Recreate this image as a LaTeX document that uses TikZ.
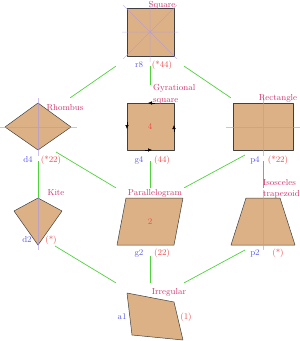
\documentclass[tikz,border=0pt]{standalone}
\usetikzlibrary{arrows.meta}
\definecolor{quadfill}{RGB}{221,177,134}
\definecolor{axiscol}{RGB}{170,150,235}
\definecolor{linkgreen}{RGB}{80,210,60}
\definecolor{namecol}{RGB}{205,55,110}
\definecolor{groupcol}{RGB}{90,90,235}
\definecolor{ordercol}{RGB}{235,75,75}
\newcommand{\lblsize}{\fontsize{8.7}{11.3}\selectfont}
\begin{document}
\begin{tikzpicture}[
	x=1pt, y=-1pt,
	quad/.style={ draw=black!75, fill=quadfill, line width=0.5pt, line join=round },
	symaxis/.style={ axiscol, opacity=0.6, line width=0.5pt },
	link/.style={ linkgreen, line width=0.7pt },
	spin/.style={ -{Latex[length=4pt,width=3.6pt]}, line width=0.5pt },
	hub/.style={ inner sep=0pt, minimum size=68pt, text=ordercol, font=\lblsize },
	qname/.style={ text=namecol, font=\lblsize, inner sep=0pt, anchor=base },
	qgroup/.style={ text=groupcol, font=\lblsize, inner sep=0pt, anchor=base },
	qorder/.style={ text=ordercol, font=\lblsize, inner sep=0pt, anchor=base }
]
\useasboundingbox (0,0) rectangle (300,341);

% the quadrilaterals
\draw[quad] (127,8) rectangle (174,56);
\draw[quad] (5,127) -- (38,103) -- (71,127) -- (38,150) -- cycle;
\draw[quad] (127,103) rectangle (174,150);
\draw[quad] (233,103) rectangle (293,150);
\draw[quad] (38,198) -- (62,211) -- (38,245) -- (14,211) -- cycle;
\draw[quad] (126,198) -- (183,198) -- (174,245) -- (117,245) -- cycle;
\draw[quad] (246,198) -- (280,198) -- (295,245) -- (231,245) -- cycle;
\draw[quad] (127,293) -- (174,302) -- (183,340) -- (132,335) -- cycle;

% symmetry axes
\draw[symaxis] (122,32) -- (178,32) (150,3) -- (150,62) (123,5) -- (177,59) (177,5) -- (123,59);
\draw[symaxis] (0,127) -- (77,127) (38,98) -- (38,156);
\draw[symaxis] (226,127) -- (300,127) (263,96) -- (263,156);
\draw[symaxis] (38,193) -- (38,250);
\draw[symaxis] (263,190) -- (263,250);

% turning arrows
\draw[spin] (155,103) -- (148,103);
\draw[spin] (127,122) -- (127,129);
\draw[spin] (145,150) -- (152,150);
\draw[spin] (174,132) -- (174,125);

\node at (150,32) (sq) [hub] {};
\node at (38,127) (rh) [hub] {};
\node at (150,127) (gy) [hub] {4};
\node at (263,127) (re) [hub] {};
\node at (38,222) (ki) [hub] {};
\node at (150,222) (pa) [hub] {2};
\node at (263,222) (tr) [hub] {};
\node at (150,317) (ir) [hub] {};

\draw[link] (sq.south west) to ([shift={(-2,5)}]rh.north east);
\draw[link] (sq.south) to ([yshift=8]gy.north);
\draw[link] (sq.south east) to ([shift={(2,5)}]re.north west);
\draw[link] (rh.south) to ([yshift=-10]ki.north);
\draw[link] ([shift={(18,25)}]rh.center) to (pa.north west);
\draw[link] (gy.south) to (pa.north);
\draw[link] ([shift={(-18,28)}]re.center) to (pa.north east);
\draw[link] (re.south) to (tr.north);
\draw[link] ([shift={(17,24)}]ki.center) to (ir.north west);
\draw[link] (pa.south) to (ir.north);
\draw[link] ([shift={(-18,28)}]tr.center) to (ir.north east);

% names
\node at (162,7) (nsq) [qname] {Square};
\node at (65,110.5) (nrh) [qname] {Rhombus};
\node at (153,84.4) (ngy) [qname, anchor=north west, align=left] {Gyrational\\square};
\node at (278,100.5) (nre) [qname] {Rectangle};
\node at (56,195.5) (nki) [qname] {Kite};
\node at (155,195.5) (npa) [qname] {Parallelogram};
\node at (263,179.4) (ntr) [qname, anchor=north west, align=left] {Isosceles\\trapezoid};
\node at (169,294.5) (nir) [qname] {Irregular};

% symmetry groups and orders
\node at (139,67.5) (gsq) [qgroup] {r8};
\node at (162,67.5) (osq) [qorder] {(*44)};
\node at (28,162.5) (grh) [qgroup] {d4};
\node at (51,162.5) (orh) [qorder] {(*22)};
\node at (139,162.5) (ggy) [qgroup] {g4};
\node at (162,162.5) (ogy) [qorder] {(44)};
\node at (255,162.5) (gre) [qgroup] {p4};
\node at (278,162.5) (ore) [qorder] {(*22)};
\node at (27,242.5) (gki) [qgroup] {d2};
\node at (51,242.5) (oki) [qorder] {(*)};
\node at (139,255.5) (gpa) [qgroup] {g2};
\node at (162,255.5) (opa) [qorder] {(22)};
\node at (255,255.5) (gtr) [qgroup] {p2};
\node at (278,255.5) (otr) [qorder] {(*)};
\node at (122,319.5) (gir) [qgroup] {a1};
\node at (186,319.5) (oir) [qorder] {(1)};

\end{tikzpicture}
\end{document}
